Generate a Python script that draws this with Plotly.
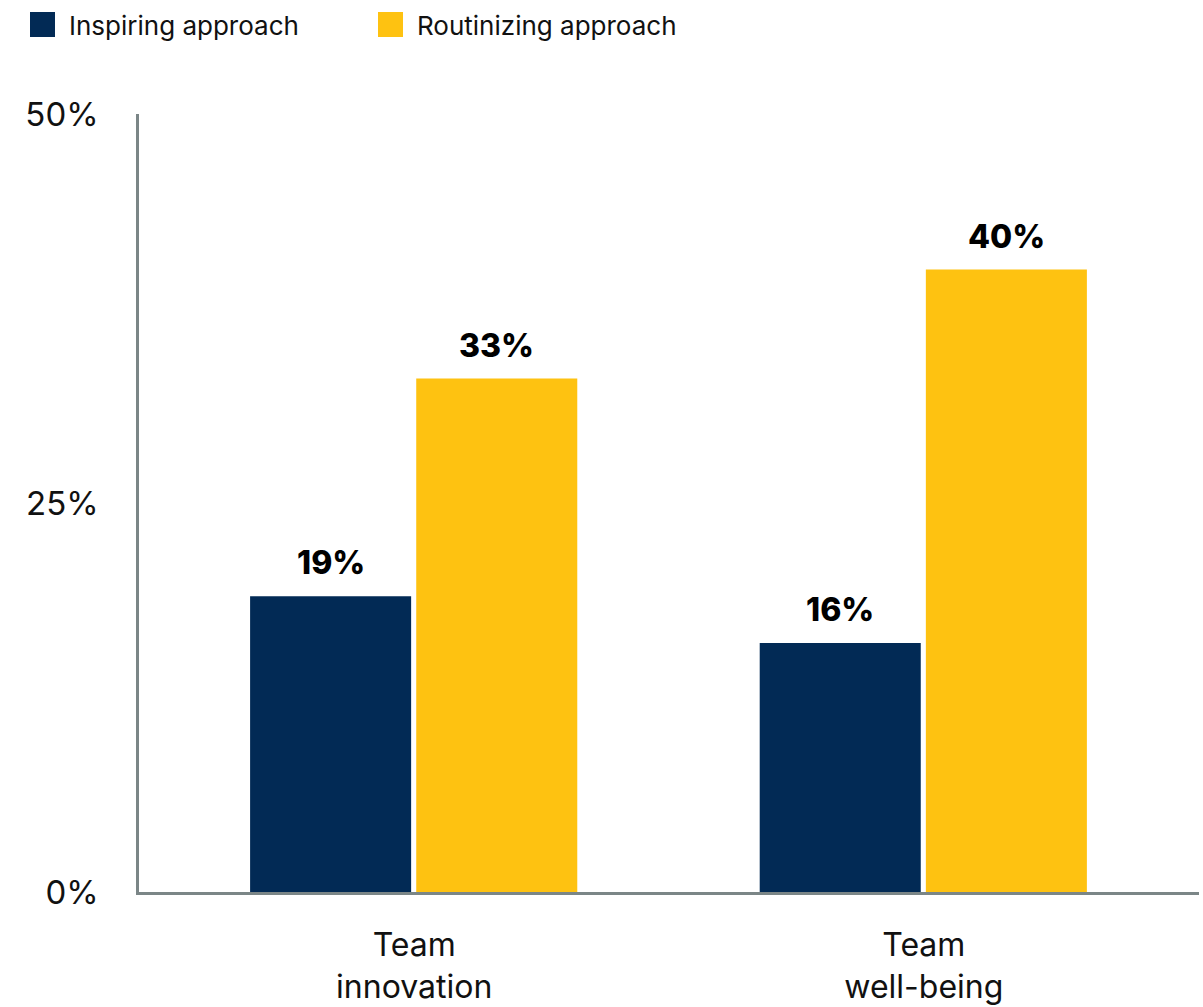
import plotly.graph_objects as go

# Share of teams by leadership approach
categories = ["Team<br>innovation", "Team<br>well-being"]
inspiring = [19, 16]
routinizing = [33, 40]
series_names = ["Inspiring approach", "Routinizing approach"]
y_tick_values = [0, 25, 50]
y_tick_labels = ["0%", "25%", "50%"]

NAVY = "#022a55"
YELLOW = "#fec211"
AXIS_GREY = "#7b8687"
FONT = "Inter"

W, H = 1203, 1007
M_L, M_R, M_T, M_B = 139, 4, 114, 115
PLOT_W = W - M_L - M_R
PLOT_H = H - M_T - M_B

BAR_W = 0.316
OFFSETS = [-0.322, 0.004]
x_pos = list(range(len(categories)))

fig = go.Figure()
for name, vals, color, off in zip(series_names, [inspiring, routinizing], [NAVY, YELLOW], OFFSETS):
    fig.add_trace(go.Bar(
        x=x_pos, y=vals, name=name, width=BAR_W, offset=off,
        marker=dict(color=color, line=dict(width=0)),
        showlegend=False, hoverinfo="skip",
    ))
    # value labels above each bar
    for xi, v in zip(x_pos, vals):
        fig.add_annotation(
            x=xi + off + BAR_W / 2, y=v, xref="x", yref="y",
            text=f"{v}%", showarrow=False, yanchor="bottom", yshift=12,
            font=dict(family=FONT, size=32, color="#000000", weight=800),
        )


def px_to_paper_x(px):
    return (px - M_L) / PLOT_W


def px_to_paper_y(py):
    return (H - M_B - py) / PLOT_H


# legend swatches and labels across the top
legend_items = [(30, 67), (378, 415)]
for (sx, tx), name, color in zip(legend_items, series_names, [NAVY, YELLOW]):
    fig.add_shape(
        type="rect", xref="paper", yref="paper",
        x0=px_to_paper_x(sx), x1=px_to_paper_x(sx + 25),
        y0=px_to_paper_y(37), y1=px_to_paper_y(12),
        fillcolor=color, line=dict(width=0),
    )
    fig.add_annotation(
        x=px_to_paper_x(tx), y=px_to_paper_y(25), xref="paper", yref="paper",
        text=name, showarrow=False, xanchor="left", yanchor="middle",
        font=dict(family=FONT, size=26, color="#111111"),
    )

fig.update_layout(
    width=W, height=H,
    margin=dict(l=M_L, r=M_R, t=M_T, b=M_B, pad=0),
    paper_bgcolor="white", plot_bgcolor="white",
    barmode="group",
    font=dict(family=FONT, color="#111111"),
)
fig.update_xaxes(
    range=[-0.54, 1.54], tickvals=x_pos, ticktext=categories,
    tickfont=dict(family=FONT, size=32, color="#111111"),
    showline=True, linecolor=AXIS_GREY, linewidth=2.5,
    showgrid=False, zeroline=False, ticks="", ticklabelstandoff=23,
    automargin=False,
)
fig.update_yaxes(
    range=[0, 50], tickvals=y_tick_values, ticktext=y_tick_labels,
    tickfont=dict(family=FONT, size=33, color="#111111"),
    showline=True, linecolor=AXIS_GREY, linewidth=2.5,
    showgrid=False, zeroline=False, ticks="", ticklabelstandoff=31,
    automargin=False,
)

fig.write_html("out.html")
